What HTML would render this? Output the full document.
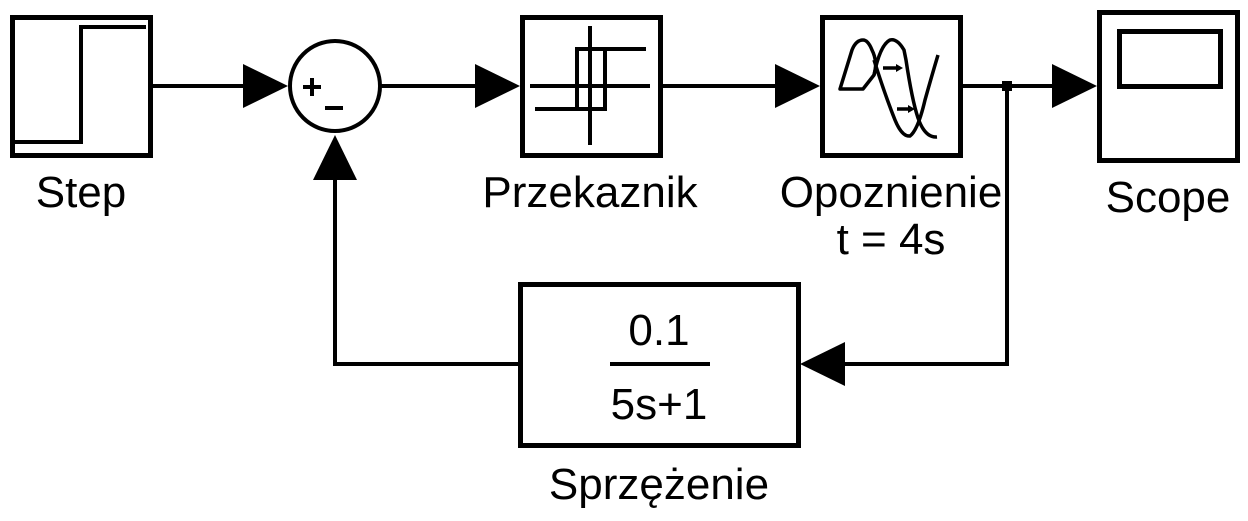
<!DOCTYPE html>
<html><head><meta charset="utf-8"><style>
html,body{margin:0;padding:0;background:#fff;}
svg{display:block;}
text{font-family:"Liberation Sans",Arial,sans-serif;font-size:44px;fill:#000;}
</style></head><body>
<svg width="1248" height="521" viewBox="0 0 1248 521" xmlns="http://www.w3.org/2000/svg">
<g fill="none" stroke="#000" stroke-width="5">
<rect x="12.5" y="17.5" width="138" height="138"/>
<polyline points="14,142 81,142 81,27 146,27" stroke-width="4"/>
<circle cx="335" cy="86" r="45" stroke-width="4"/>
<rect x="522.5" y="17.5" width="138" height="138"/>
<g stroke-width="4">
<line x1="590" y1="26" x2="590" y2="145"/>
<line x1="530" y1="86" x2="650" y2="86"/>
<polyline points="646,49 577,49 577,109 535,109"/>
<polyline points="577,49 605,49 605,109 577,109"/>
</g>
<rect x="822.5" y="17.5" width="138" height="138"/>
<g stroke-width="3.5" stroke-linejoin="round">
<path d="M840,89 L852,50 Q856,40 863,40 Q868,40 872,50 Q878,62 874,75 L863,89 Z"/>
<path d="M874,75 Q880,45 890,40 Q897,38 904,50 L906,60 Q912,100 918,118 Q925,138 937,137"/>
<path d="M874,60 Q885,95 895,120 Q902,137 910,136 Q918,130 925,100 Q932,75 938,55"/>
<line x1="883" y1="68" x2="898" y2="68"/>
<line x1="897" y1="109" x2="910" y2="109"/>
</g>
<rect x="1099.5" y="12.5" width="138" height="148"/>
<rect x="1119.5" y="31.5" width="101" height="55"/>
<rect x="520.5" y="284.5" width="278" height="161"/>
<g stroke-width="4">
<line x1="152" y1="86" x2="245" y2="86"/>
<line x1="380" y1="86" x2="478" y2="86"/>
<line x1="662" y1="86" x2="778" y2="86"/>
<line x1="962" y1="86" x2="1055" y2="86"/>
<polyline points="1007,86 1007,364 843,364"/>
<polyline points="520,364 335,364 335,178"/>
<line x1="610" y1="364" x2="710" y2="364"/>
</g>
</g>
<g fill="#000">
<polygon points="243,64 288,86 243,108"/>
<polygon points="475,64 520,86 475,108"/>
<polygon points="775,64 820,86 775,108"/>
<polygon points="1052,64 1097,86 1052,108"/>
<polygon points="845,342 800,364 845,386"/>
<polygon points="313,180 335,135 357,180"/>
<rect x="1002" y="81" width="10" height="10"/>
<rect x="303" y="85" width="18" height="4"/>
<rect x="310" y="78" width="4" height="18"/>
<rect x="325" y="106" width="18" height="4"/>
<polygon points="896,64 903,68 896,72"/>
<polygon points="908,105 915,109 908,113"/>
</g>
<text x="81" y="207" text-anchor="middle">Step</text>
<text x="590" y="207" text-anchor="middle">Przekaznik</text>
<text x="891" y="207" text-anchor="middle">Opoznienie</text>
<text x="891" y="254" text-anchor="middle">t = 4s</text>
<text x="1168" y="212" text-anchor="middle">Scope</text>
<text x="659" y="345" text-anchor="middle">0.1</text>
<text x="659" y="419" text-anchor="middle">5s+1</text>
<text x="659" y="499" text-anchor="middle">Sprzężenie</text>
</svg>
</body></html>
